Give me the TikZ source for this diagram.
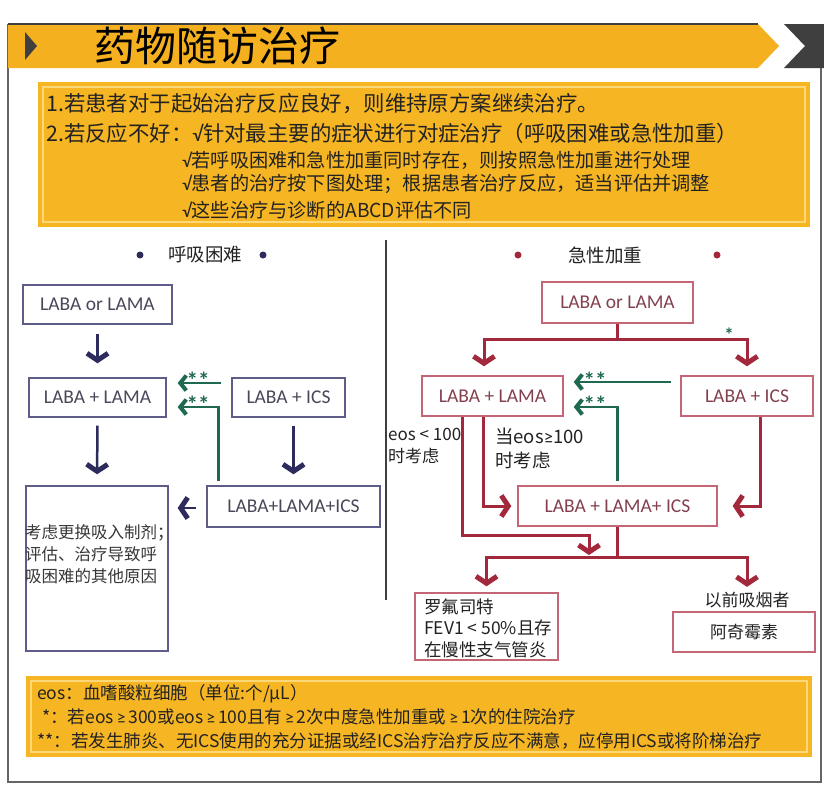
\documentclass[tikz,border=0pt]{standalone}
\usepackage{fontspec}
\setmainfont{Carlito}
\newfontfamily\cjk{Noto Sans CJK SC}
\newfontfamily\latn{Carlito}
\newcommand\sqk{{\latn √}}
\newcommand\gek{{\latn ≥}}
\usetikzlibrary{arrows.meta}
\definecolor{ban}{HTML}{F4B01E}
\definecolor{ylw}{HTML}{F6B522}
\definecolor{ylwl}{HTML}{FCD878}
\definecolor{navy}{HTML}{2D2B5C}
\definecolor{navyb}{HTML}{5E5D8A}
\definecolor{rd}{HTML}{A3283C}
\definecolor{rdb}{HTML}{C46676}
\definecolor{grn}{HTML}{1F6A4F}
\definecolor{dkb}{HTML}{3F3F3F}
\definecolor{ltxt}{HTML}{48485A}
\definecolor{rtxt}{HTML}{84404E}
\definecolor{btxt}{HTML}{222222}
\newcommand\fsz[1]{\fontsize{#1}{#1}\selectfont}
\begin{document}
\begin{tikzpicture}[x=1pt,y=-1pt,
  lbox/.style={draw=navyb, line width=1.4pt, inner sep=0pt, font=\fsz{19.5}, text=ltxt},
  rbox/.style={draw=rdb, line width=1.4pt, inner sep=0pt, font=\fsz{19.5}, text=rtxt},
  narr/.style={draw=navy, line width=2.5pt, -{Straight Barb[length=7pt,width=21pt,line width=5pt]}},
  rline/.style={draw=rd, line width=3pt},
  rarr/.style={draw=rd, line width=3pt, -{Straight Barb[length=7pt,width=21pt,line width=5pt]}},
  garr/.style={draw=grn, line width=2.5pt, -{Straight Barb[length=6pt,width=15pt,line width=4pt]}},
  star/.style={text=grn, font=\latn\fsz{23}\bfseries, inner sep=0pt},
  btext/.style={anchor=west, inner sep=0pt, text=btxt},
  ctext/.style={inner sep=0pt, text=btxt, font=\cjk\fsz{17}},
  dot/.style={circle, inner sep=0pt, minimum size=7pt}
]
\fill[white] (0,0) rectangle (824,785);
\useasboundingbox (0,0) rectangle (824,785);

% frame
\draw[draw=dkb!80, line width=1.6pt] (8,24) -- (8,782) -- (821,782) -- (821,68);
% banner
\fill[ban] (8,24) -- (758,24) -- (779,46) -- (758,68) -- (8,68) -- cycle;
\draw[dkb, line width=1.5pt] (8,24) -- (758,24);
\fill[dkb] (784,24) -- (824,24) -- (824,68) -- (784,68) -- (805,46) -- cycle;
\fill[dkb] (25,32) -- (37,46) -- (25,60) -- cycle;
\node[anchor=west, inner sep=0pt, font=\cjk\fsz{41}, text=black] (title) at (94,46) {药物随访治疗};

% box 1
\fill[ylw] (38,82) rectangle (810,227);
\draw[ylwl, line width=1.2pt] (43,87) rectangle (805,222);
\node[btext, font=\cjk\fsz{21.4}] (t1) at (46,104) {1.若患者对于起始治疗反应良好，则维持原方案继续治疗。};
\node[btext, font=\cjk\fsz{21.4}] (t2) at (46,133) {2.若反应不好：\sqk 针对最主要的症状进行对症治疗（呼吸困难或急性加重）};
\node[btext, font=\cjk\fsz{19.2}] (t3) at (182,160) {\sqk 若呼吸困难和急性加重同时存在，则按照急性加重进行处理};
\node[btext, font=\cjk\fsz{19.2}] (t4) at (182,184) {\sqk 患者的治疗按下图处理；根据患者治疗反应，适当评估并调整};
\node[btext, font=\cjk\fsz{19.2}] (t5) at (182,210) {\sqk 这些治疗与诊断的ABCD评估不同};

% divider
\draw[dkb, line width=2pt] (386,240) -- (386,600);

% ---------- left: 呼吸困难 ----------
\node[dot, fill=navy] (ld1) at (140,255) {};
\node[dot, fill=navy] (ld2) at (263,255) {};
\node[ctext, font=\cjk\fsz{18.5}] (lh) at (205,255) {呼吸困难};

\node[lbox, minimum width=149pt, minimum height=39pt] (L1) at (97.5,304.5) {LABA or LAMA};
\node[lbox, minimum width=137pt, minimum height=39pt] (L2) at (97.5,397.5) {LABA + LAMA};
\node[lbox, minimum width=113pt, minimum height=39pt] (L3) at (288.5,397.5) {LABA + ICS};
\node[lbox, minimum width=173pt, minimum height=41pt] (L4) at (293.5,506.5) {LABA+LAMA+ICS};
\node[lbox, minimum width=142pt, minimum height=165pt] (L5) at (97,568.5) {};
\node[anchor=north west, inner sep=0pt, align=left, text=btxt!90,
      font=\cjk\fontsize{16.5}{22}\selectfont] (L5t) at (25,524) {考虑更换吸入制剂；\\评估、治疗导致呼\\吸困难的其他原因};

\draw[narr, shorten <=9pt, shorten >=14pt] (L1.south) -- (L2.north);
\draw[narr, shorten <=8pt, shorten >=11pt] (L2.south) -- (L5.north);
\draw[narr, shorten <=8pt, shorten >=11pt] (L3.south -| L4.north) -- (L4.north);
\draw[narr, shorten <=10pt, shorten >=9pt] ([yshift=-1.5pt]L4.west) -- ([yshift=-1.5pt]L4.west -| L5.east);

\draw[garr, shorten <=10pt, shorten >=11pt] ([yshift=14.5pt]L3.west) -- ([yshift=14.5pt]L2.east);
\draw[garr, shorten >=11pt] ([xshift=12pt,yshift=4pt]L4.north west) |- ([yshift=-9.5pt]L2.east);
\node[star] (ls1) at (198,380) {**};
\node[star] (ls2) at (198,404) {**};

% ---------- right: 急性加重 ----------
\node[dot, fill=rd] (rd1) at (518,255) {};
\node[dot, fill=rd] (rd2) at (717,255) {};
\node[ctext, font=\cjk\fsz{18.5}] (rh) at (605,255) {急性加重};

\node[rbox, minimum width=151pt, minimum height=41pt] (R1) at (617.5,302.5) {LABA or LAMA};
\node[rbox, minimum width=141pt, minimum height=40pt] (R2) at (492.5,396) {LABA + LAMA};
\node[rbox, minimum width=132pt, minimum height=40pt] (R3) at (747,396) {LABA + ICS};
\node[rbox, minimum width=199pt, minimum height=40pt] (R4) at (617.5,506) {LABA + LAMA+ ICS};
\node[rbox, minimum width=143pt, minimum height=67pt] (R5) at (486.5,626.5) {};
\node[anchor=west, inner sep=0pt, align=left, text=btxt,
      font=\cjk\fontsize{17.5}{21.5}\selectfont] (R5t) at (424,628)
      {罗氟司特\\FEV1 < 50\%且存\\在慢性支气管炎};
\node[rbox, minimum width=142pt, minimum height=40pt, text=btxt, font=\cjk\fsz{17}] (R6) at (744,632) {阿奇霉素};
\node[ctext] (R6l) at (747,600) {以前吸烟者};

\node[ctext, anchor=north west, align=left, font=\cjk\fontsize{17}{22}\selectfont] (lab1) at (388,428) {eos < 100\\时考虑};
\node[ctext, anchor=north west, align=left, font=\cjk\fontsize{18.5}{24}\selectfont] (lab2) at (495,428) {当eos\gek 100\\时考虑};
\node[star, font=\latn\fsz{19}\bfseries] (rs0) at (729,335) {*};

% splits
\coordinate (j1) at ([yshift=-15.5pt]R1.south);
\draw[rline] (R1.south) -- (j1);
\draw[rarr, shorten >=9pt] (j1) -| ([xshift=-8.5pt]R2.north);
\draw[rarr, shorten >=9pt] (j1) -| (R3.north);

\draw[rarr, shorten >=6pt] ([xshift=-9.5pt]R2.south) |- (R4.west);
\coordinate (m1) at (589,535);
\coordinate (m2) at (589,555);
\draw[rarr] ([xshift=-30.5pt]R2.south) |- (m1) -- (m2);
\draw[rarr, shorten >=15pt] ([xshift=13pt]R3.south) |- (R4.east);

\coordinate (j2) at ([yshift=-31pt]R4.south);
\draw[rline] (R4.south) -- (j2);
\draw[rarr, shorten >=6pt] (j2) -| (R5.north);
\draw[rarr, shorten >=5pt] (j2) -| (R6l.north);

\draw[garr, shorten <=9pt, shorten >=10pt] ([yshift=14pt]R3.west) -- ([yshift=14pt]R2.east);
\draw[garr, shorten >=10pt] ([yshift=4pt]R4.north) |- ([yshift=-11pt]R2.east);
\node[star] (rs1) at (595,380) {**};
\node[star] (rs2) at (595,404) {**};

% bottom box
\fill[ylw] (26,676) rectangle (812,757);
\draw[ylwl, line width=1.2pt] (31,681) rectangle (807,752);
\node[btext, font=\cjk\fsz{17.5}] (b1) at (37,694) {eos：血嗜酸粒细胞（单位:个/μL）};
\node[btext, font=\cjk\fsz{17.5}] (b2) at (42,717) {*：若eos\,\gek\,300或eos\,\gek\,100且有\,\gek\,2次中度急性加重或\,\gek\,1次的住院治疗};
\node[btext, font=\cjk\fsz{17.5}] (b3) at (37,741) {**：若发生肺炎、无ICS使用的充分证据或经ICS治疗治疗反应不满意，应停用ICS或将阶梯治疗};
\end{tikzpicture}
\end{document}
